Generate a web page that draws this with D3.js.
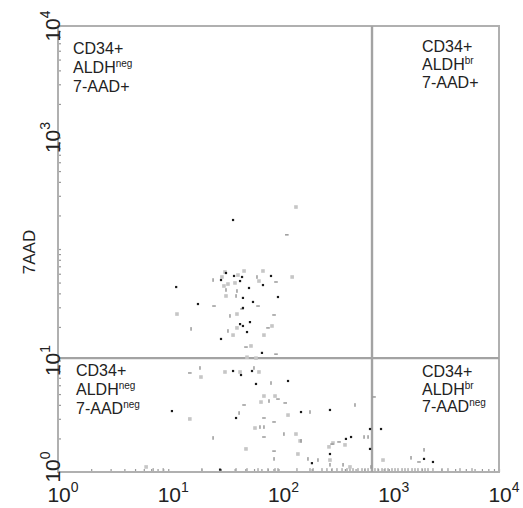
<!DOCTYPE html>
<html><head><meta charset="utf-8">
<script src="https://cdn.jsdelivr.net/npm/d3@7"></script>
<style>
body{margin:0;background:#fff}
text{font-family:"Liberation Sans",Arial,Helvetica,sans-serif}
</style>
</head><body>
<svg id="chart" width="523" height="508"></svg>
<script>
// ---------- data ----------
const xDomain = [1, 10000];
const yDomain = [1, 10000];
const decadeTicks = [1, 10, 100, 1000, 10000];
const decadeExp = ["0", "1", "2", "3", "4"];
const yAxisTitle = "7AAD";
const xGate = 705;     // ALDH gate
const yGate = 10.5;    // 7-AAD gate

// black events
const darkPts = [
  [38.7,182],[33.4,60.9],[30.1,52.7],[39.5,57.3],[46.7,56.1],[44.8,51.6],[54.0,44.7],[85.5,57.3],
  [72.3,47.5],[11.8,45.6],[98.9,37.1],[47.6,36.4],[18.6,32.1],[58.7,33.5],[47.6,29.6],[55.1,22.1],
  [44.8,21.2],[47.6,20.4],[51.8,18.0],[30.1,15.6],[70.8,11.7],[38.7,8.05],[45.7,7.41],[57.5,8.05],
  [62.5,6.16],[122,6.55],[160,3.45],[293,3.60],[41.2,3.05],[409,1.98],[293,1.45],[201,1.20],
  [10.8,3.52],[455,2.06],[676,2.43],[851,2.43],[676,1.61],[2089,1.31],[2518,1.23],[29.5,1.05]
];
// light grey events
const lightPts = [
  [144,238],[32.7,62.2],[30.7,56.1],[42.9,58.4],[48.7,63.5],[40.3,49.6],[34.8,48.5],[32.0,46.6],
  [33.4,37.9],[66.5,51.6],[72.3,63.5],[133,56.1],[12.0,26.1],[42.0,26.1],[42.0,19.6],[87.3,20.4],
  [38.7,16.9],[73.8,16.9],[56.3,13.5],[51.8,10.7],[62.5,10.5],[19.8,7.11],[32.7,7.89],[44.8,7.89],
  [66.5,7.89],[73.8,4.80],[93.0,4.80],[69.4,4.24],[122,3.24],[15.7,2.99],[61.2,2.48],[144,2.19],
  [287,1.68],[401,1.75],[50.7,1.61],[150,1.45],[6.3,1.11],[157,1.90],[312,1.82],[887,1.28],
  [445,1.11],[293,1.28]
];
// grey events drawn as short vertical marks
const vMarkPts = [
  [25.5,52.7],[63.8,56.1],[33.4,42.9],[42.0,42.0],[41.2,37.9],[36.3,25.1],[16.1,19.2],[34.8,18.4],
  [19.4,8.57],[59.9,8.57],[85.5,6.28],[82.0,4.33],[43.9,3.38],[193,3.45],[67.9,2.53],[73.8,2.53],
  [112,2.19],[25.5,2.02],[160,1.90],[91.1,1.31],[185,1.31],[228,1.28],[293,1.16],[385,1.16],
  [494,3.99],[597,2.06],[649,2.06],[2089,1.58],[1592,1.34],[690,1.11]
];
// grey events drawn as short horizontal marks
const hMarkPts = [
  [119,134],[94.9,50.6],[26.0,30.8],[65.2,30.8],[46.7,29.0],[91.1,25.6],[80.3,19.6],[50.7,13.2],
  [94.9,11.4],[15.7,7.73],[98.9,4.51],[115,4.16],[48.7,3.99],[73.8,3.05],[91.1,2.81],[73.8,2.06],
  [354,1.86],[306,1.78],[91.1,1.54],[735,4.71],[1880,1.23]
];
// events piled on the lower axis
const baseRowPts = [
  [7.3,1.05],[9.0,1.05],[20.2,1.05],[41.2,1.05],[51.8,1.05],[65.2,1.05],[80.3,1.05],[93.0,1.05],
  [98.9,1.05],[147,1.05],[193,1.05],[206,1.05],[248,1.05],[275,1.05],[306,1.05],[339,1.05],
  [377,1.05],[418,1.05],[445,1.05],[474,1.05],[526,1.05],[572,1.05],[609,1.05],[649,1.05],
  [700,1.05],[750,1.05],[799,1.05],[869,1.05],[925,1.05],[985,1.05],[1070,1.05],[1140,1.05],
  [1213,1.05],[1320,1.05],[1404,1.05],[1496,1.05],[1626,1.05],[1730,1.05],[1841,1.05],[2004,1.05],
  [2133,1.05],[2270,1.05],[2518,1.05],[3041,1.05],[3445,1.05],[4428,1.05],[5690,1.05]
];
// quadrant labels: [text, superscript]
const qTopLeft  = [["CD34+",""],["ALDH","neg"],["7-AAD+",""]];
const qTopRight = [["CD34+",""],["ALDH","br"],["7-AAD+",""]];
const qBotLeft  = [["CD34+",""],["ALDH","neg"],["7-AAD","neg"]];
const qBotRight = [["CD34+",""],["ALDH","br"],["7-AAD","neg"]];

// ---------- layout ----------
const L = 58, R = 499, T = 26, B = 472;
const svg = d3.select("#chart");
const x = d3.scaleLog().domain(xDomain).range([L, R]);
const y = d3.scaleLog().domain(yDomain).range([B, T]);
const textCol = "#222";

// minor/major ticks (inside)
const gx = svg.append("g").attr("transform", `translate(0,${B})`)
  .call(d3.axisBottom(x).tickValues(x.ticks()).tickSize(-3).tickFormat(""));
const gy = svg.append("g").attr("transform", `translate(${L},0)`)
  .call(d3.axisLeft(y).tickValues(y.ticks()).tickSize(-3).tickFormat(""));
[gx, gy].forEach(g => { g.select(".domain").remove(); g.selectAll("line").attr("stroke", "#999").attr("stroke-width", 1.2); });

// frame
svg.append("rect").attr("x", L).attr("y", T).attr("width", R - L).attr("height", B - T)
  .attr("fill", "none").attr("stroke", "#b0b0b0").attr("stroke-width", 2);

// gates
svg.append("line").attr("x1", x(xGate)).attr("x2", x(xGate)).attr("y1", T).attr("y2", B)
  .attr("stroke", "#a3a3a3").attr("stroke-width", 2.4);
svg.append("line").attr("x1", L).attr("x2", R).attr("y1", y(yGate)).attr("y2", y(yGate))
  .attr("stroke", "#a3a3a3").attr("stroke-width", 2.4);

// events
function marks(data, w, h, fill) {
  svg.append("g").selectAll("rect").data(data).join("rect")
    .attr("x", d => x(d[0]) - w / 2).attr("y", d => y(d[1]) - h / 2)
    .attr("width", w).attr("height", h).attr("fill", fill);
}
marks(baseRowPts, 1.4, 3, "#a8a8a8");
marks(lightPts, 3.6, 3.6, "#c6c6c6");
marks(vMarkPts, 1.5, 3.6, "#9a9a9a");
marks(hMarkPts, 3.6, 1.5, "#9a9a9a");
marks(darkPts, 2.2, 2.2, "#1a1a1a");

// x tick labels
const xl = svg.append("g").selectAll("text").data(decadeTicks).join("text")
  .attr("x", d => x(d) + 5).attr("y", 502).attr("text-anchor", "middle")
  .attr("font-size", 21).attr("fill", textCol);
xl.append("tspan").text("10");
xl.append("tspan").attr("font-size", 14).attr("dy", -10).text((d, i) => decadeExp[i]);

// y tick labels (skip 10^2 where axis title sits)
const yIdx = [0, 1, 3, 4];
const yl = svg.append("g").selectAll("text").data(yIdx).join("text")
  .attr("transform", i => `translate(60,${y(decadeTicks[i]) - (i === 0 ? 5 : 0)}) rotate(-90)`)
  .attr("text-anchor", "middle").attr("font-size", 21).attr("fill", textCol);
yl.append("tspan").text("10");
yl.append("tspan").attr("font-size", 14).attr("dy", -10).text(i => decadeExp[i]);

// y axis title
svg.append("text").attr("transform", `translate(35,${y(100) + 3}) rotate(-90)`)
  .attr("text-anchor", "middle").attr("font-size", 17).attr("fill", textCol).text(yAxisTitle);

// quadrant labels
function quad(lines, px, py, gap) {
  lines.forEach((ln, i) => {
    const t = svg.append("text").attr("x", px).attr("y", py + i * gap)
      .attr("font-size", 16).attr("fill", textCol);
    t.append("tspan").text(ln[0]);
    if (ln[1]) t.append("tspan").attr("font-size", 10).attr("dy", -6).text(ln[1]);
  });
}
quad(qTopLeft, L + 15, T + 28, 19);
quad(qTopRight, 422, T + 26, 18);
quad(qBotLeft, L + 18, y(yGate) + 18, 19);
quad(qBotRight, 422, y(yGate) + 19, 17.5);
</script>
</body></html>
